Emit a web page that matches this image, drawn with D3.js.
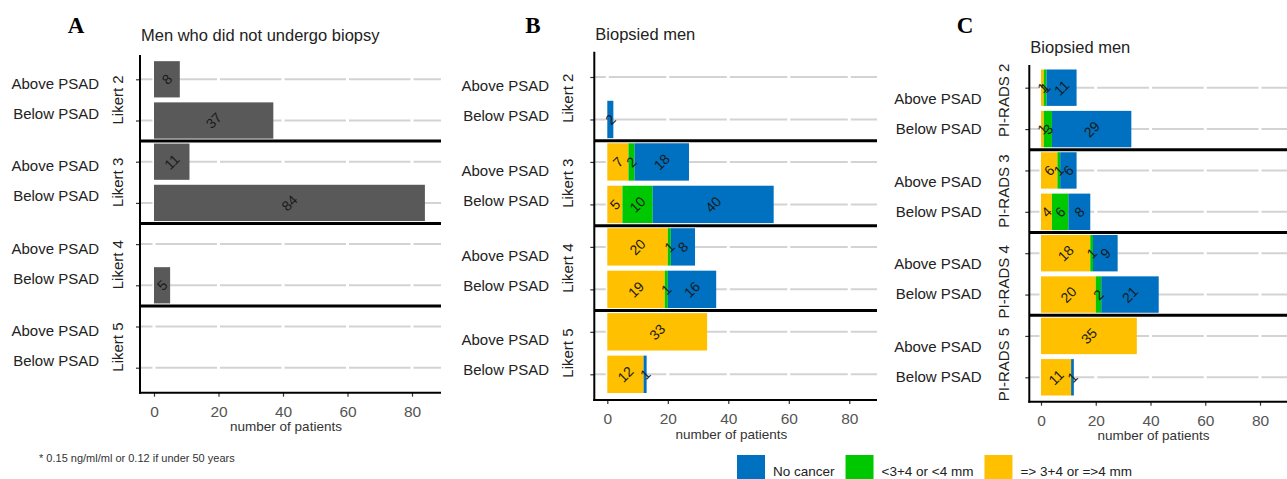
<!DOCTYPE html>
<html>
<head>
<meta charset="utf-8">
<script src="https://cdn.jsdelivr.net/npm/d3@7"></script>
<style>
  body { margin: 0; background: #fff; }
  svg { font-family: "Liberation Sans", Arial, sans-serif; }
</style>
</head>
<body>
<script>
// data
var rowLabels = ["Above PSAD", "Below PSAD"];
var likertGroups = ["Likert 2", "Likert 3", "Likert 4", "Likert 5"];
var piradsGroups = ["PI-RADS 2", "PI-RADS 3", "PI-RADS 4", "PI-RADS 5"];
var xTicks = [0, 20, 40, 60, 80];

// panel A, one value per row (group x PSAD)
var notBiopsied = [8, 37, 11, 84, 0, 5, 0, 0];

// stacked series, drawn left to right in this order
var seriesKeys = ["sig", "insig", "none"];
var seriesNames = ["=> 3+4 or =>4 mm", "<3+4 or <4 mm", "No cancer"];
var legendOrder = ["No cancer", "<3+4 or <4 mm", "=> 3+4 or =>4 mm"];

var likertSig      = [0, 0, 7, 5, 20, 19, 33, 12];
var likertInsig    = [0, 0, 2, 10, 1, 1, 0, 0];
var likertNoCancer = [0, 2, 18, 40, 8, 16, 0, 1];

var piradsSig      = [1, 1, 6, 4, 18, 20, 35, 11];
var piradsInsig    = [1, 3, 1, 6, 1, 2, 0, 0];
var piradsNoCancer = [11, 29, 6, 8, 9, 21, 0, 1];

var color = d3.scaleOrdinal()
    .domain(seriesKeys)
    .range(["#ffc000", "#00c800", "#0070c0"]);

var W = 1287, H = 479;
var svg = d3.select("body").append("svg")
    .attr("width", W).attr("height", H);

function buildTable(groups, sig, insig, none) {
    var rows = [];
    groups.forEach(function(g, gi) {
        rowLabels.forEach(function(r, ri) {
            var i = gi * 2 + ri;
            rows.push({key: g + "|" + r, group: g, sig: sig[i], insig: insig[i], none: none[i]});
        });
    });
    return rows;
}

function drawPanel(cfg) {
    var g = svg.append("g");
    var keys = cfg.rows.map(function(d) { return d.key; });

    var x = d3.scaleLinear().domain([0, 80]).range([cfg.x0, cfg.x80]);
    var y = d3.scalePoint().domain(keys).range([cfg.firstRow, cfg.lastRow]);
    var step = y.step();
    var barH = step * 0.88;

    // panel letter and title
    g.append("text").attr("x", cfg.letterX).attr("y", 33)
        .attr("text-anchor", "middle")
        .style("font-family", "'Liberation Serif', 'Times New Roman', serif")
        .style("font-weight", "bold").style("font-size", "23px")
        .text(cfg.letter);
    g.append("text").attr("x", cfg.axisX + 1).attr("y", cfg.titleY)
        .style("font-size", "16.5px").attr("fill", "#222")
        .text(cfg.title);

    // horizontal grid
    g.selectAll(".hgrid").data(keys).enter().append("line")
        .attr("x1", cfg.axisX).attr("x2", cfg.right)
        .attr("y1", function(d) { return y(d); })
        .attr("y2", function(d) { return y(d); })
        .attr("stroke", "#d3d3d3").attr("stroke-width", 2);
    // white vertical grid (makes the breaks)
    g.selectAll(".vgrid").data(xTicks).enter().append("line")
        .attr("x1", function(d) { return x(d); })
        .attr("x2", function(d) { return x(d); })
        .attr("y1", cfg.top).attr("y2", cfg.bottom)
        .attr("stroke", "#fff").attr("stroke-width", 3);

    // bars
    var stack = d3.stack().keys(cfg.series);
    var layers = stack(cfg.rows);
    var lay = g.selectAll(".layer").data(layers).enter().append("g")
        .attr("fill", function(d) { return cfg.single ? "#595959" : color(d.key); });
    lay.selectAll("rect").data(function(d) { return d; }).enter().append("rect")
        .filter(function(d) { return d[1] - d[0] > 0; })
        .attr("x", function(d) { return x(d[0]); })
        .attr("width", function(d) { return x(d[1]) - x(d[0]); })
        .attr("y", function(d) { return y(d.data.key) - barH / 2; })
        .attr("height", barH);

    // value labels
    layers.forEach(function(layer) {
        layer.forEach(function(d) {
            var v = d[1] - d[0];
            if (v <= 0) return;
            var cx = x((d[0] + d[1]) / 2), cy = y(d.data.key);
            g.append("text")
                .attr("transform", "translate(" + cx + "," + cy + ") rotate(-45)")
                .attr("text-anchor", "middle").attr("dy", "0.36em")
                .style("font-size", "14px").attr("fill", "#1a1a1a")
                .text(v);
        });
    });

    // facet separators
    for (var k = 1; k < cfg.groups.length; k++) {
        var sy = (y(keys[k * 2 - 1]) + y(keys[k * 2])) / 2;
        g.append("line").attr("x1", cfg.axisX).attr("x2", cfg.right)
            .attr("y1", sy).attr("y2", sy)
            .attr("stroke", "#000").attr("stroke-width", 3);
    }

    // y axis
    var yAxis = d3.axisLeft(y).tickSize(4).tickFormat("");
    var gy = g.append("g").attr("transform", "translate(" + cfg.axisX + ",0)").call(yAxis);
    gy.select(".domain").remove();
    gy.selectAll(".tick line").attr("stroke", "#333").attr("stroke-width", 1.2);
    g.append("line").attr("x1", cfg.axisX).attr("x2", cfg.axisX)
        .attr("y1", cfg.top).attr("y2", cfg.bottom + 1)
        .attr("stroke", "#000").attr("stroke-width", 2);

    // x axis
    var xAxis = d3.axisBottom(x).tickValues(xTicks).tickSize(4).tickPadding(4);
    var gx = g.append("g").attr("transform", "translate(0," + cfg.bottom + ")").call(xAxis);
    gx.select(".domain").remove();
    gx.selectAll(".tick line").attr("stroke", "#333").attr("stroke-width", 1.2);
    gx.selectAll(".tick text").attr("fill", "#555").style("font-size", "15.5px")
        .style("font-family", "'Liberation Sans', Arial, sans-serif").attr("y", 13);
    g.append("line").attr("x1", cfg.axisX - 1).attr("x2", cfg.right)
        .attr("y1", cfg.bottom).attr("y2", cfg.bottom)
        .attr("stroke", "#000").attr("stroke-width", 2);
    g.append("text").attr("x", (cfg.x0 + cfg.x80) / 2 + 3).attr("y", cfg.bottom + 38.5)
        .attr("text-anchor", "middle").style("font-size", "13.5px").attr("fill", "#333")
        .text("number of patients");

    // row labels and facet labels
    cfg.groups.forEach(function(grp, gi) {
        var c = (y(keys[gi * 2]) + y(keys[gi * 2 + 1])) / 2;
        rowLabels.forEach(function(r, ri) {
            g.append("text").attr("x", cfg.labelRight)
                .attr("y", c + cfg.labelShift + (ri === 0 ? -15 : 15))
                .attr("dy", "0.36em").attr("text-anchor", "end")
                .style("font-size", "15px").attr("fill", "#222")
                .text(r);
        });
        g.append("text")
            .attr("transform", "translate(" + cfg.facetX + "," + (c + cfg.facetShift[gi]) + ") rotate(-90)")
            .attr("text-anchor", "middle").attr("dy", "0.36em")
            .style("font-size", "15px").attr("fill", "#222")
            .text(grp);
    });
}

drawPanel({
    letter: "A", letterX: 76, title: "Men who did not undergo biopsy", titleY: 41,
    rows: buildTable(likertGroups, notBiopsied.map(function() { return 0; }), notBiopsied.map(function() { return 0; }), notBiopsied),
    series: ["none"], single: true, groups: likertGroups,
    axisX: 140, x0: 154, x80: 412, right: 441, top: 55, bottom: 392.7,
    firstRow: 79.3, lastRow: 367.7, labelRight: 99, labelShift: -1.5,
    facetX: 118, facetShift: [0, 0, 0, 0]
});

drawPanel({
    letter: "B", letterX: 533, title: "Biopsied men", titleY: 40,
    rows: buildTable(likertGroups, likertSig, likertInsig, likertNoCancer),
    series: seriesKeys, single: false, groups: likertGroups,
    axisX: 594.3, x0: 607.3, x80: 849.3, right: 877, top: 51.7, bottom: 400,
    firstRow: 77, lastRow: 374.3, labelRight: 549, labelShift: 2,
    facetX: 567.7, facetShift: [0, 0, 0, 0]
});

drawPanel({
    letter: "C", letterX: 965, title: "Biopsied men", titleY: 53,
    rows: buildTable(piradsGroups, piradsSig, piradsInsig, piradsNoCancer),
    series: seriesKeys, single: false, groups: piradsGroups,
    axisX: 1029.3, x0: 1041, x80: 1260, right: 1287, top: 65, bottom: 401.7,
    firstRow: 87.7, lastRow: 377.3, labelRight: 981.7, labelShift: 5,
    facetX: 1004, facetShift: [-8, 0, 8, 8]
});

// footnote
svg.append("text").attr("x", 39).attr("y", 462)
    .style("font-size", "11px").attr("fill", "#333")
    .text("* 0.15 ng/ml/ml or 0.12 if under 50 years");

// legend
var lx = 737;
legendOrder.forEach(function(name) {
    var key = seriesKeys[seriesNames.indexOf(name)];
    svg.append("rect").attr("x", lx).attr("y", 455).attr("width", 28).attr("height", 28)
        .attr("fill", color(key));
    var t = svg.append("text").attr("x", lx + 36).attr("y", 471).attr("dy", "0.36em")
        .style("font-size", "13.5px").attr("fill", "#222").text(name);
    lx += 36 + t.node().getComputedTextLength() + 11;
});
</script>
</body>
</html>
